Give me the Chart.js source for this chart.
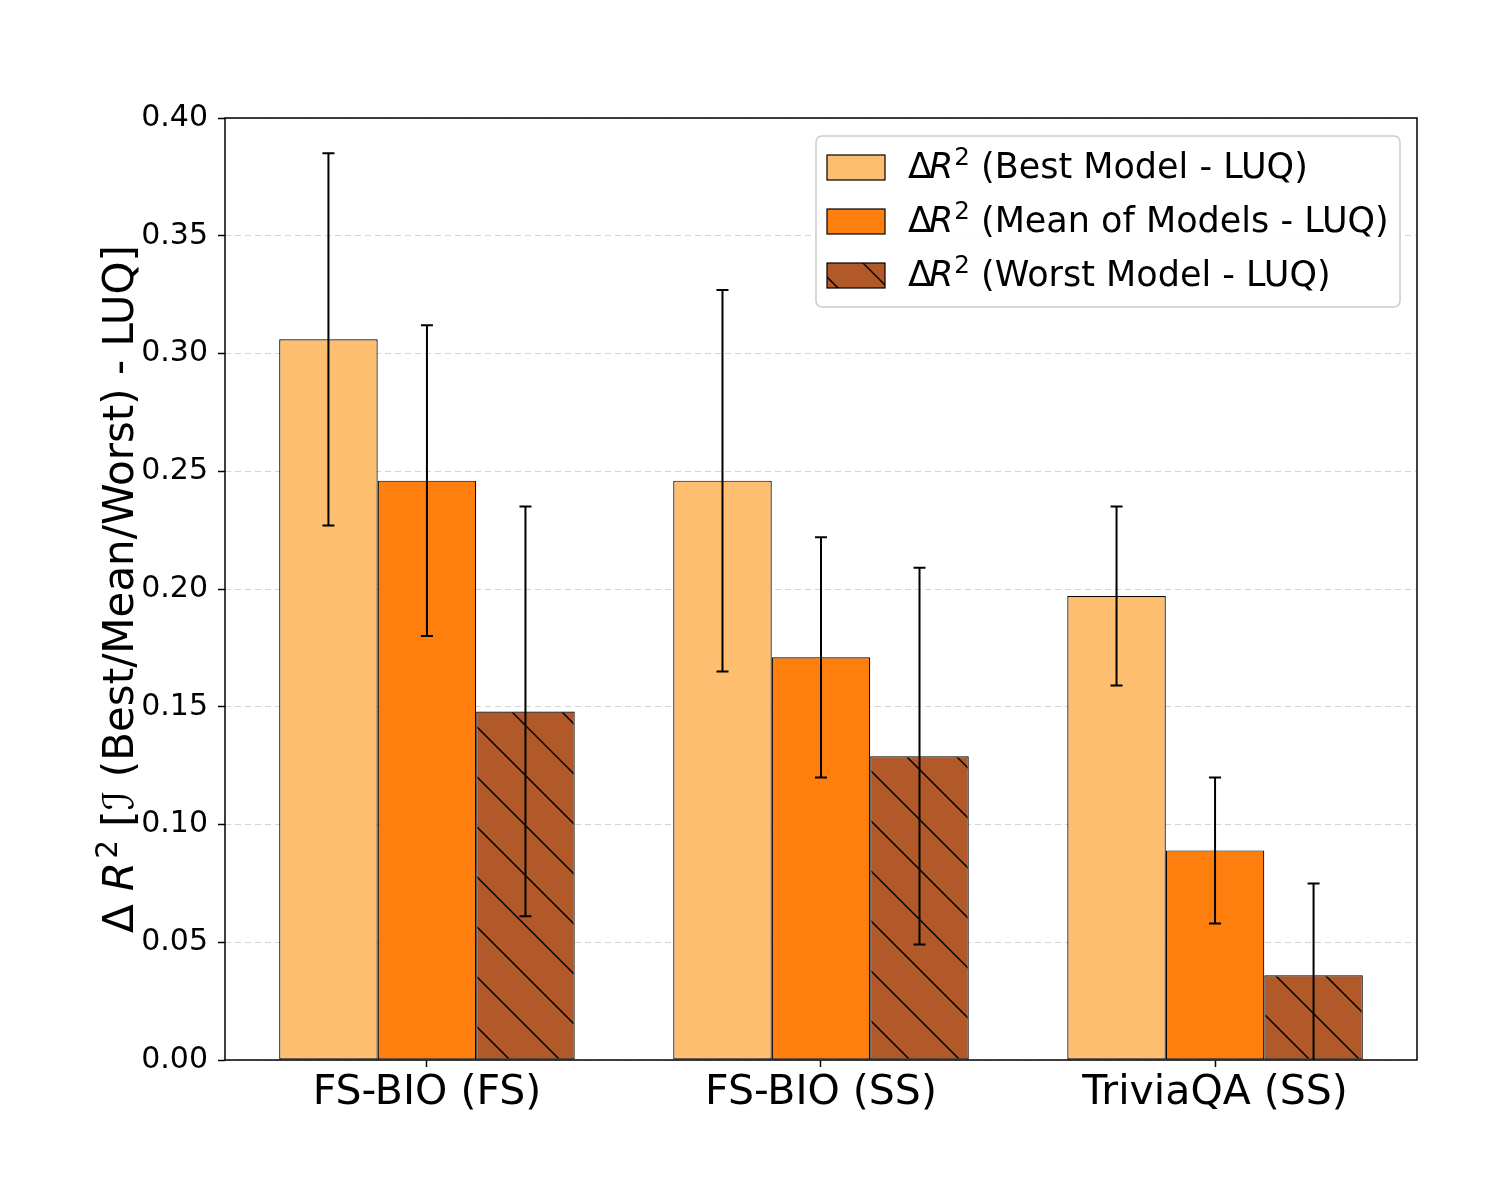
<!DOCTYPE html>
<html>
<head>
<meta charset="utf-8">
<script src="https://cdn.jsdelivr.net/npm/chart.js@4.4.1/dist/chart.umd.min.js"></script>
<style>
  body { margin: 0; background: #fff; }
</style>
</head>
<body>
<canvas id="js--chart" width="1500" height="1200"></canvas>
<script>
const categories = ["FS-BIO (FS)", "FS-BIO (SS)", "TriviaQA (SS)"];
const seriesNames = ["Best Model - LUQ", "Mean of Models - LUQ", "Worst Model - LUQ"];

const bestValues = [0.306, 0.246, 0.197];
const bestErrors = [0.079, 0.081, 0.038];
const meanValues = [0.246, 0.171, 0.089];
const meanErrors = [0.066, 0.051, 0.031];
const worstValues = [0.148, 0.129, 0.036];
const worstErrors = [0.087, 0.080, 0.039];

const yMin = 0;
const yMax = 0.40;
const yStep = 0.05;

const FONT = "'DejaVu Sans', sans-serif";

// hatch "\\" pattern for the worst-model bars
function makeHatch(color) {
    const size = 50;
    const c = document.createElement("canvas");
    c.width = size; c.height = size;
    const g = c.getContext("2d");
    g.fillStyle = color;
    g.fillRect(0, 0, size, size);
    g.strokeStyle = "#000";
    g.lineWidth = 1.5;
    g.beginPath();
    g.moveTo(-5, -5); g.lineTo(size + 5, size + 5);
    g.moveTo(-5, size - 5); g.lineTo(5, size + 5);
    g.moveTo(size - 5, -5); g.lineTo(size + 5, 5);
    g.stroke();
    return g.createPattern(c, "repeat");
}

const colors = ["#FDBF6F", "#FF7F0E", makeHatch("#B15928")];

function points(values) {
    return values.map(function(v, i) { return {x: i, y: v}; });
}

const data = {
    datasets: [
        {label: seriesNames[0], data: points(bestValues), errors: bestErrors, backgroundColor: colors[0]},
        {label: seriesNames[1], data: points(meanValues), errors: meanErrors, backgroundColor: colors[1]},
        {label: seriesNames[2], data: points(worstValues), errors: worstErrors, backgroundColor: colors[2]}
    ]
};
data.datasets.forEach(function(ds) {
    ds.borderColor = "#000";
    ds.borderWidth = 1.2;
    ds.borderSkipped = false;
    ds.categoryPercentage = 0.75;
    ds.barPercentage = 1.0;
});

// draws "ΔR² (text)" style labels: pieces of [text, italic?, superscript?, extra gap]
function drawPieces(ctx, pieces, x, y, size, measureOnly) {
    let cx = x;
    pieces.forEach(function(p) {
        const fs = p[2] ? size * 0.7 : size;
        ctx.font = (p[1] ? "oblique " : "") + fs + "px " + FONT;
        if (!measureOnly) ctx.fillText(p[0], cx, p[2] ? y - size * 0.38 : y);
        cx += ctx.measureText(p[0]).width + (p[3] || 0);
    });
    return cx - x;
}

const errorBars = {
    id: "errorBars",
    afterDatasetsDraw(chart) {
        const ctx = chart.ctx;
        const yScale = chart.scales.y;
        const area = chart.chartArea;
        ctx.save();
        ctx.beginPath();
        ctx.rect(area.left, area.top, area.right - area.left, area.bottom - area.top);
        ctx.clip();
        ctx.strokeStyle = "#000";
        ctx.lineWidth = 2;
        chart.data.datasets.forEach(function(ds, di) {
            const meta = chart.getDatasetMeta(di);
            meta.data.forEach(function(bar, i) {
                const v = ds.data[i].y, e = ds.errors[i];
                const top = yScale.getPixelForValue(v + e);
                const bot = yScale.getPixelForValue(v - e);
                ctx.beginPath();
                ctx.moveTo(bar.x, top); ctx.lineTo(bar.x, bot);
                ctx.moveTo(bar.x - 6, top); ctx.lineTo(bar.x + 6, top);
                ctx.moveTo(bar.x - 6, bot); ctx.lineTo(bar.x + 6, bot);
                ctx.stroke();
            });
        });
        ctx.restore();
    }
};

const frameAndLegend = {
    id: "frameAndLegend",
    afterDraw(chart) {
        const ctx = chart.ctx;
        const area = chart.chartArea;
        ctx.save();
        // axes frame
        ctx.strokeStyle = "#000";
        ctx.lineWidth = 1.5;
        ctx.strokeRect(area.left, area.top, area.right - area.left, area.bottom - area.top);

        // legend box
        ctx.beginPath();
        ctx.roundRect(816, 136, 584, 171, 6);
        ctx.fillStyle = "rgba(255,255,255,0.85)";
        ctx.fill();
        ctx.strokeStyle = "#cccccc";
        ctx.lineWidth = 1.5;
        ctx.stroke();

        const rowY = [155, 209, 263];
        chart.data.datasets.forEach(function(ds, i) {
            ctx.fillStyle = ds.backgroundColor;
            ctx.fillRect(827, rowY[i], 58, 25);
            ctx.strokeStyle = "#000";
            ctx.lineWidth = 1.2;
            ctx.strokeRect(827, rowY[i], 58, 25);
            ctx.fillStyle = "#000";
            ctx.textBaseline = "alphabetic";
            ctx.textAlign = "left";
            drawPieces(ctx, [["\u0394", false, false, -3], ["R", true, false, 1], ["2", false, true, 0], [" (" + ds.label + ")", false]], 908, rowY[i] + 23, 35);
        });

        // y-axis title
        const pieces = [["\u0394 ", false], ["R", true, false, 3], ["2", false, true], [" [", false], ["\u2110", true], [" (Best/Mean/Worst) - LUQ]", false]];
        ctx.translate(133, (area.top + area.bottom) / 2);
        ctx.rotate(-Math.PI / 2);
        ctx.textBaseline = "alphabetic";
        ctx.textAlign = "left";
        ctx.fillStyle = "#000";
        const w = drawPieces(ctx, pieces, 0, 0, 42, true);
        drawPieces(ctx, pieces, -w / 2, 0, 42);
        ctx.restore();
    }
};

const config = {
    type: "bar",
    data: data,
    options: {
        responsive: false,
        devicePixelRatio: 1,
        animation: false,
        layout: {padding: {left: 0, right: 83, top: 118, bottom: 0}},
        plugins: {legend: {display: false}, tooltip: {enabled: false}},
        scales: {
            x: {
                type: "linear",
                offset: false,
                min: -0.5125,
                max: 2.5125,
                afterBuildTicks: function(scale) {
                    scale.ticks = categories.map(function(c, i) { return {value: i}; });
                },
                afterFit: function(scale) { scale.height = 140; },
                ticks: {
                    callback: function(v) { return categories[Math.round(v)]; },
                    font: {family: FONT, size: 41},
                    color: "#000",
                    padding: 2,
                    maxRotation: 0,
                    autoSkip: false
                },
                grid: {offset: false, drawOnChartArea: false, tickColor: "#000", tickLength: 7, tickWidth: 1.5},
                border: {display: false}
            },
            y: {
                min: yMin,
                max: yMax,
                afterFit: function(scale) { scale.width = 225; },
                ticks: {
                    stepSize: yStep,
                    callback: function(v) { return v.toFixed(2); },
                    font: {family: FONT, size: 30},
                    color: "#000",
                    padding: 10
                },
                grid: {color: "#d3d3d3", lineWidth: 1, tickColor: "#000", tickLength: 7, tickWidth: 1.5, tickBorderDash: []},
                border: {display: false, dash: [6, 4]}
            }
        }
    },
    plugins: [errorBars, frameAndLegend]
};

const chart = new Chart(document.getElementById("js--chart"), config);
</script>
</body>
</html>
